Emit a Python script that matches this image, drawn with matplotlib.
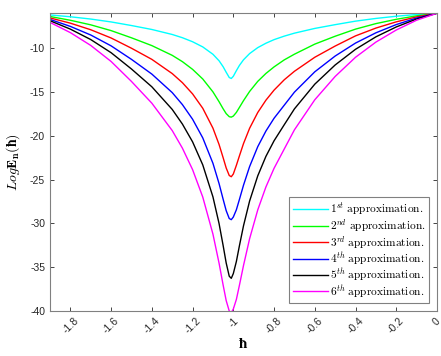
import matplotlib
matplotlib.use("Agg")
import matplotlib.pyplot as plt

plt.rcParams['font.family'] = ['Liberation Sans', 'DejaVu Sans']
plt.rcParams['mathtext.fontset'] = 'cm'

# hbar grid (shared by all curves)
hbar = [-1.9, -1.8, -1.7, -1.6, -1.5, -1.4, -1.3, -1.25, -1.2, -1.15, -1.1, -1.07,
        -1.05, -1.035, -1.02, -1.01, -1.0, -0.985, -0.97, -0.95, -0.92, -0.88, -0.84,
        -0.8, -0.75, -0.7, -0.6, -0.5, -0.4, -0.3, -0.2, -0.1, 0.0]

E1 = [-6.22, -6.43, -6.69, -7.02, -7.43, -7.88, -8.45, -8.82, -9.28, -9.87, -10.71, -11.45,
      -12.13, -12.76, -13.36, -13.47, -13.22, -12.58, -11.98, -11.34, -10.63, -9.95, -9.45,
      -9.04, -8.64, -8.30, -7.76, -7.33, -6.93, -6.62, -6.37, -6.17, -6.03]
E2 = [-6.40, -6.83, -7.35, -8.01, -8.83, -9.72, -10.83, -11.55, -12.43, -13.53, -15.00, -16.12,
      -16.93, -17.48, -17.83, -17.88, -17.76, -17.34, -16.77, -16.0, -14.95, -13.8, -12.9,
      -12.15, -11.35, -10.7, -9.55, -8.65, -7.84, -7.21, -6.72, -6.32, -6.03]
E3 = [-6.56, -7.16, -7.91, -8.85, -10.02, -11.29, -12.91, -13.95, -15.23, -16.87, -19.14, -21.0,
      -22.51, -23.68, -24.54, -24.68, -24.37, -23.38, -22.3, -20.9, -19.15, -17.35, -15.95,
      -14.8, -13.62, -12.65, -11.05, -9.77, -8.61, -7.72, -7.01, -6.44, -6.03]
E4 = [-6.73, -7.53, -8.51, -9.75, -11.29, -12.97, -15.08, -16.45, -18.12, -20.25, -23.15, -25.46,
      -27.25, -28.55, -29.45, -29.58, -29.28, -28.45, -27.27, -25.65, -23.52, -21.25, -19.47,
      -18.01, -16.52, -15.03, -12.71, -10.91, -9.43, -8.26, -7.32, -6.57, -6.03]
E5 = [-6.88, -7.84, -9.03, -10.53, -12.39, -14.42, -17.0, -18.67, -20.7, -23.33, -26.98, -30.02,
      -32.53, -34.52, -36.03, -36.27, -35.73, -34.35, -32.55, -30.28, -27.45, -24.58, -22.36,
      -20.58, -18.75, -16.94, -14.12, -11.93, -10.14, -8.72, -7.59, -6.68, -6.03]
E6 = [-7.07, -8.24, -9.70, -11.53, -13.81, -16.29, -19.41, -21.42, -23.87, -27.0, -31.23, -34.54,
      -37.04, -38.81, -40.0, -40.18, -39.78, -38.68, -37.06, -34.81, -31.75, -28.46, -25.85,
      -23.72, -21.52, -19.33, -15.9, -13.24, -11.05, -9.32, -7.94, -6.82, -6.03]

series = [E1, E2, E3, E4, E5, E6]
colors = ['#00FFFF', '#00FF00', '#FF0000', '#0000FF', '#000000', '#FF00FF']
labels = [r'$1^{st}\ \mathrm{approximation.}$', r'$2^{nd}\ \mathrm{approximation.}$',
          r'$3^{rd}\ \mathrm{approximation.}$', r'$4^{th}\ \mathrm{approximation.}$',
          r'$5^{th}\ \mathrm{approximation.}$', r'$6^{th}\ \mathrm{approximation.}$']
xticks = [-1.8, -1.6, -1.4, -1.2, -1.0, -0.8, -0.6, -0.4, -0.2, 0.0]
xticklabels = ['-1.8', '-1.6', '-1.4', '-1.2', '-1', '-0.8', '-0.6', '-0.4', '-0.2', '0']
yticks = [-40, -35, -30, -25, -20, -15, -10]

fig = plt.figure(figsize=(4.41, 3.56), dpi=100)
ax = fig.add_axes([50 / 441, 45 / 356, 387 / 441, 298 / 356])

for y, c, lab in zip(series, colors, labels):
    ax.plot(hbar, y, color=c, lw=1.0, label=lab)

ax.set_xlim(-1.9, 0)
ax.set_ylim(-40, -6)
ax.set_xticks(xticks)
ax.set_xticklabels(xticklabels, rotation=45, ha='center')
ax.set_yticks(yticks)
ax.set_yticklabels([str(v) for v in yticks])
ax.tick_params(direction='in', top=True, right=True, labelsize=7.5, colors='#262626',
               length=3, width=0.6, labelcolor='#262626')
for s in ax.spines.values():
    s.set_color('#808080')
    s.set_linewidth(0.8)

ax.set_xlabel(r'$\mathbf{\hbar}$', fontsize=11, labelpad=1)
ax.set_ylabel(r'$Log\mathbf{E_n(\hbar)}$', fontsize=10, labelpad=6)

leg = ax.legend(loc='lower right', bbox_to_anchor=(0.98, 0.027), fontsize=8.2,
                frameon=True, fancybox=False, framealpha=1, handlelength=3.1,
                handletextpad=0.2, labelspacing=-0.05, borderpad=0.3, borderaxespad=0)
leg.get_frame().set_edgecolor('#808080')
leg.get_frame().set_linewidth(0.8)

fig.savefig('out.png', dpi=100)
